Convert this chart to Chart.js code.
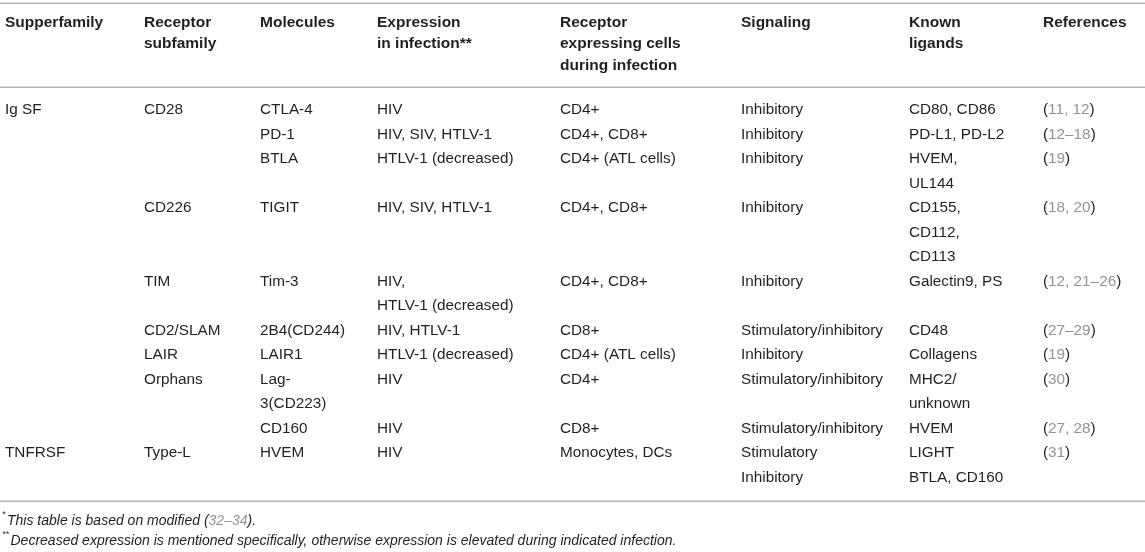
<!DOCTYPE html>
<html>
<head>
<meta charset="utf-8">
<script src="https://cdn.jsdelivr.net/npm/chart.js@4.4.1/dist/chart.umd.min.js"></script>
<style>
  html, body { margin: 0; padding: 0; background: #fff; }
  #table { display: block; }
</style>
</head>
<body>
<canvas id="table" width="1145" height="552"></canvas>
<script>
// header and one array per column, one entry per table row ('\n' = line break in cell)
const headers = ['Supperfamily', 'Receptor\nsubfamily', 'Molecules', 'Expression\nin infection**',
    'Receptor\nexpressing cells\nduring infection', 'Signaling', 'Known\nligands', 'References'];
const superfamily = ['Ig SF', '', '', '', '', '', '', '', '', 'TNFRSF', ''];
const subfamily = ['CD28', '', '', 'CD226', 'TIM', 'CD2/SLAM', 'LAIR', 'Orphans', '', 'Type-L', ''];
const molecules = ['CTLA-4', 'PD-1', 'BTLA', 'TIGIT', 'Tim-3', '2B4(CD244)', 'LAIR1', 'Lag-\n3(CD223)', 'CD160', 'HVEM', ''];
const expression = ['HIV', 'HIV, SIV, HTLV-1', 'HTLV-1 (decreased)', 'HIV, SIV, HTLV-1', 'HIV,\nHTLV-1 (decreased)',
    'HIV, HTLV-1', 'HTLV-1 (decreased)', 'HIV', 'HIV', 'HIV', ''];
const cellTypes = ['CD4+', 'CD4+, CD8+', 'CD4+ (ATL cells)', 'CD4+, CD8+', 'CD4+, CD8+', 'CD8+',
    'CD4+ (ATL cells)', 'CD4+', 'CD8+', 'Monocytes, DCs', ''];
const signaling = ['Inhibitory', 'Inhibitory', 'Inhibitory', 'Inhibitory', 'Inhibitory', 'Stimulatory/inhibitory',
    'Inhibitory', 'Stimulatory/inhibitory', 'Stimulatory/inhibitory', 'Stimulatory', 'Inhibitory'];
const ligands = ['CD80, CD86', 'PD-L1, PD-L2', 'HVEM,\nUL144', 'CD155,\nCD112,\nCD113', 'Galectin9, PS', 'CD48',
    'Collagens', 'MHC2/\nunknown', 'HVEM', 'LIGHT', 'BTLA, CD160'];
const references = ['(11, 12)', '(12–18)', '(19)', '(18, 20)', '(12, 21–26)', '(27–29)', '(19)', '(30)',
    '(27, 28)', '(31)', ''];
const footnotes = [['*', 'This table is based on modified (32–34).'],
    ['**', 'Decreased expression is mentioned specifically, otherwise expression is elevated during indicated infection.']];

const columns = [superfamily, subfamily, molecules, expression, cellTypes, signaling, ligands, references];

// layout (x in canvas px, y in body line units)
const colLeft = [5, 144, 260, 377, 560, 741, 909, 1043];
const headerTop = -3.57, headerStep = 0.88;
const rules = [-4.35, -0.93, 15.95];
const footY = [16.77, 17.59];
const FONT = '"Liberation Sans", Arial, sans-serif';
const INK = '#231f20';
const GREY = '#939393';

// line index where every row starts
const rowStart = [];
let pos = 0;
for (let r = 0; r < superfamily.length; r++) {
    rowStart.push(pos);
    pos += Math.max(...columns.map(col => col[r].split('\n').length));
}

const datasets = columns.map((col, c) => {
    const pts = [];
    col.forEach((cell, r) => {
        if (!cell) return;
        cell.split('\n').forEach((line, k) => pts.push({ x: colLeft[c], y: rowStart[r] + k, text: line }));
    });
    return { label: headers[c], data: pts, pointRadius: 0, kind: c === 7 ? 'ref' : 'body' };
});
datasets.push({
    label: 'header',
    kind: 'header',
    pointRadius: 0,
    data: headers.flatMap((h, c) => h.split('\n').map((line, k) => ({ x: colLeft[c], y: headerTop + k * headerStep, text: line })))
});
datasets.push({
    label: 'footnotes',
    kind: 'foot',
    pointRadius: 0,
    data: footnotes.map((f, i) => ({ x: 2, y: footY[i], mark: f[0], text: f[1] }))
});

// draws "(" ")" dark and the numbers grey
function drawRef(ctx, text, x, y) {
    text.split(/([()])/).filter(s => s).forEach(part => {
        ctx.fillStyle = (part === '(' || part === ')') ? INK : GREY;
        ctx.fillText(part, x, y);
        x += ctx.measureText(part).width;
    });
    return x;
}

const tablePlugin = {
    id: 'tableText',
    afterDatasetsDraw(chart) {
        const ctx = chart.ctx;
        const ys = chart.scales.y;
        ctx.save();
        ctx.strokeStyle = '#b4b4b4';
        ctx.lineWidth = 1.5;
        rules.forEach(v => {
            const py = Math.round(ys.getPixelForValue(v)) + 0.25;
            ctx.beginPath();
            ctx.moveTo(0, py);
            ctx.lineTo(chart.width, py);
            ctx.stroke();
        });
        ctx.textBaseline = 'middle';
        ctx.textAlign = 'left';
        chart.data.datasets.forEach((ds, i) => {
            const meta = chart.getDatasetMeta(i);
            meta.data.forEach((el, j) => {
                const d = ds.data[j];
                if (ds.kind === 'header') {
                    ctx.font = 'bold 15.5px ' + FONT;
                    ctx.fillStyle = INK;
                    ctx.fillText(d.text, el.x, el.y);
                } else if (ds.kind === 'ref') {
                    ctx.font = '15.3px ' + FONT;
                    drawRef(ctx, d.text, el.x, el.y);
                } else if (ds.kind === 'foot') {
                    ctx.font = 'italic 9px ' + FONT;
                    ctx.fillStyle = INK;
                    ctx.fillText(d.mark, el.x, el.y - 6);
                    const x0 = el.x + ctx.measureText(d.mark).width + 1.5;
                    ctx.font = 'italic 14px ' + FONT;
                    const parts = d.text.split(/(\(.*?\))/);
                    let x = x0;
                    parts.filter(s => s).forEach(p => {
                        if (p.startsWith('(')) {
                            x = drawRef(ctx, p, x, el.y);
                        } else {
                            ctx.fillStyle = INK;
                            ctx.fillText(p, x, el.y);
                            x += ctx.measureText(p).width;
                        }
                    });
                } else {
                    ctx.font = '15.3px ' + FONT;
                    ctx.fillStyle = INK;
                    ctx.fillText(d.text, el.x, el.y);
                }
            });
        });
        ctx.restore();
    }
};

new Chart(document.getElementById('table'), {
    type: 'scatter',
    data: { datasets },
    options: {
        responsive: false,
        animation: false,
        devicePixelRatio: 1,
        layout: { padding: 0 },
        plugins: { legend: { display: false }, tooltip: { enabled: false } },
        scales: {
            x: { type: 'linear', min: 0, max: 1145, display: false },
            y: { type: 'linear', min: -4.49, max: 18.04, reverse: true, display: false }
        }
    },
    plugins: [tablePlugin]
});
</script>
</body>
</html>
